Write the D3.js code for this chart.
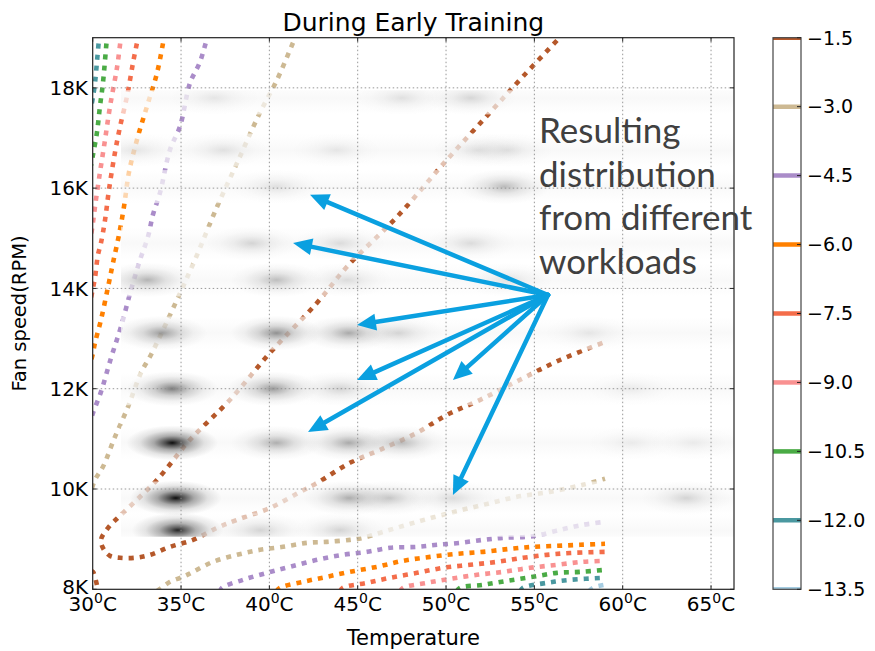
<!DOCTYPE html>
<html>
<head>
<meta charset="utf-8">
<script src="https://cdn.jsdelivr.net/npm/d3@7"></script>
<style>
  body { margin: 0; background: #fff; }
  text { font-family: "DejaVu Sans", sans-serif; fill: #000; }
</style>
</head>
<body>
<svg id="chart" width="875" height="651"></svg>
<script>
// ---- contour levels of the log-likelihood and their colours ----
const levels = [-1.5, -3.0, -4.5, -6.0, -7.5, -9.0, -10.5, -12.0, -13.5];
const levelColors = ["#b5582a", "#cdb993", "#aa8cc9", "#ff8000", "#f46d4a",
                     "#f99191", "#4aab45", "#4a98a0", "#a6cde2"];

// contour traces as [temperature °C, fan speed RPM]
const brownMain = [[56.7,19100],[54.36,18228],[52.49,17508],[50.06,16570],[47.23,15430],[44.39,14432],
  [42.70,13714],[40.04,12717],[37.77,11779],[35.51,10982],[33.64,10183],[31.72,9524],[30.87,9225],
  [30.47,8986],[30.64,8787],[30.98,8667],[31.55,8628],[32.39,8628],[33.24,8687],[34.38,8847],
  [35.68,8986],[37.04,9225],[38.17,9385],[40.04,9624],[41.73,9940],[42.70,10120],[44.56,10522],
  [46.26,10782],[48.36,11121],[50.06,11480],[51.93,11779],[54.19,12178],[56.45,12573],[59.0,12932]];
const brownCorner = [[29.9,8370],[30.02,8345],[30.3,8000],[30.35,7950]];
const tanUpper = [[41.57,19100],[40.43,18157],[39.47,17508],[38.17,16501],[37.04,15629],[35.79,14572],
  [34.72,13734],[33.30,12677],[32.73,12318],[32.00,11640],[31.26,11041],[30.58,10443],[30.13,10183],[29.9,9950]];
const tanLower = [[33.65,7970],[33.81,8010],[34.38,8149],[35.11,8249],[35.68,8348],[36.81,8548],[38.17,8687],
  [39.47,8787],[40.77,8847],[42.13,8926],[43.25,8946],[44.56,8986],[45.29,9026],[46.44,9146],[48.36,9345],
  [50.23,9524],[52.10,9684],[54.02,9844],[55.88,9943],[57.75,10083],[59.0,10203]];
const purpleUpper = [[36.55,19100],[36.07,18515],[35.51,18097],[34.94,17229],[34.38,16770],[33.81,15908],
  [33.41,15470],[33.13,15031],[32.68,14572],[32.17,13973],[31.60,13235],[31.04,12617],[30.47,11939],
  [30.02,11520],[29.9,11380]];
const purpleLower = [[37.2,7950],[37.32,8030],[38.51,8189],[39.87,8328],[41.17,8448],[42.70,8588],[44.16,8687],
  [45.53,8747],[46.83,8827],[48.36,8847],[49.49,8887],[50.79,8926],[52.10,8986],[53.23,9026],[54.58,9046],
  [55.32,9086],[56.45,9185],[57.75,9285],[59.0,9345]];
const orangeUpper = [[34.1,19100],[34.04,19000],[33.64,18296],[33.07,17628],[32.51,16969],[32.05,16310],
  [31.77,15629],[31.49,15071],[31.15,14512],[30.87,14033],[30.47,13375],[30.13,12916],[30.02,12717],[29.9,12550]];
const orangeLower = [[40.4,7960],[40.60,8030],[41.90,8149],[43.25,8249],[44.56,8348],[46.09,8448],[47.57,8568],
  [49.10,8647],[50.62,8707],[52.10,8747],[53.62,8807],[54.92,8847],[56.28,8867],[57.58,8887],[59.0,8907]];
const redUpper = [[32.6,19100],[32.56,19000],[32.28,18495],[31.94,17827],[31.55,17229],[31.26,16710],
  [30.92,15963],[30.70,15370],[30.47,14911],[30.30,14672],[30.13,14213],[30.02,14013],[29.9,13800]];
const redLower = [[44.0,7960],[44.16,8030],[45.53,8129],[46.83,8229],[48.36,8328],[49.83,8428],[51.36,8488],
  [52.89,8548],[54.36,8628],[55.71,8687],[57.02,8724],[59.0,8747]];
const pinkUpper = [[31.65,19100],[31.60,19000],[31.38,18415],[30.98,17628],[30.70,16969],[30.41,16310],
  [30.13,15629],[30.0,15270],[29.9,15050]];
const pinkLower = [[47.4,7960],[47.57,8030],[48.92,8129],[50.23,8209],[51.76,8289],[53.23,8348],[54.75,8428],
  [56.28,8488],[57.75,8548],[59.0,8568]];
const greenUpper = [[30.85,19100],[30.81,19000],[30.58,18097],[30.41,17628],[30.24,17109],[30.02,16673],[29.9,16450]];
const greenLower = [[50.6,7960],[50.79,8030],[52.10,8090],[53.45,8169],[54.92,8249],[56.28,8328],[57.58,8348],[59.0,8388]];
const tealUpper = [[30.38,19100],[30.36,19000],[30.24,18515],[30.13,18097],[30.02,17827],[29.9,17600]];
const tealLower = [[54.2,7960],[54.36,8030],[55.71,8129],[57.02,8189],[59.0,8229]];
const lightBlueLower = [[58.1,7960],[58.32,8030],[59.0,8090]];

const contourTraces = [
  {level: -1.5, pts: brownMain}, {level: -1.5, pts: brownCorner},
  {level: -3.0, pts: tanUpper}, {level: -3.0, pts: tanLower},
  {level: -4.5, pts: purpleUpper}, {level: -4.5, pts: purpleLower},
  {level: -6.0, pts: orangeUpper}, {level: -6.0, pts: orangeLower},
  {level: -7.5, pts: redUpper}, {level: -7.5, pts: redLower},
  {level: -9.0, pts: pinkUpper}, {level: -9.0, pts: pinkLower},
  {level: -10.5, pts: greenUpper}, {level: -10.5, pts: greenLower},
  {level: -12.0, pts: tealUpper}, {level: -12.0, pts: tealLower},
  {level: -13.5, pts: lightBlueLower}
];

// ---- observed workload distribution (fan speed rows and density peaks) ----
const densityRows = [17800, 16760, 16030, 14900, 14170, 13110, 12000, 10920, 9820, 9180];
const densityExtent = {tMin: 31.6, fMin: 9050, fMax: 17950};
const densityBlobs = [
  [36.9,17800,0.08],[47.5,17800,0.10],[51.4,17800,0.14],
  [32.45,16760,0.08],[37.4,16760,0.10],[43.8,16760,0.08],[51.8,16760,0.10],[53.5,16760,0.10],
  [40.4,16030,0.10],[53.3,16030,0.25],
  [39.0,14900,0.15],[44.0,14900,0.12],[51.4,14900,0.12],
  [33.1,14170,0.28],[40.4,14170,0.24],[44.4,14170,0.12],[53.5,14170,0.10],
  [33.9,13110,0.38],[40.4,13110,0.42],[44.5,13110,0.32],[47.3,13110,0.15],[58.1,13110,0.08],
  [34.5,12000,0.5],[40.2,12000,0.38],[44.0,12000,0.15],[60.5,12000,0.06],
  [34.5,10920,0.95],[40.4,10920,0.30],[44.5,10920,0.32],[47.5,10920,0.25],[60.5,10920,0.06],[64.0,10920,0.06],
  [34.7,9820,0.95],[44.5,9820,0.30],[46.8,9820,0.20],[50.4,9820,0.12],[63.6,9820,0.15],
  [34.8,9180,0.85],[39.5,9180,0.15],[44.0,9180,0.15]
];

// ---- annotation arrows: common origin and tips [°C, RPM] ----
const arrowOrigin = [55.77, 13869];
const arrowTips = [[42.30,15868],[41.34,14906],[44.96,13271],[44.96,12174],[50.39,12174],[42.19,11137],[50.39,9881]];
const noteLines = ["Resulting", "distribution", "from different", "workloads"];

// ---- axes ticks ----
const tempTicks = [30, 35, 40, 45, 50, 55, 60, 65];
const fanTicks = [8000, 10000, 12000, 14000, 16000, 18000];
const fanTickLabels = ["8K", "10K", "12K", "14K", "16K", "18K"];

// ================= drawing =================
const svg = d3.select("#chart");
const P = {left: 92.7, top: 37.7, right: 734, bottom: 589.3};
const x = d3.scaleLinear().domain([30, 66.3]).range([P.left, P.right]);
const y = d3.scaleLinear().domain([8000, 19000]).range([P.bottom, P.top]);

const defs = svg.append("defs");
defs.append("clipPath").attr("id", "plotClip").append("rect")
  .attr("x", P.left).attr("y", P.top).attr("width", P.right - P.left).attr("height", P.bottom - P.top);
defs.append("clipPath").attr("id", "densityClip").append("rect")
  .attr("x", x(densityExtent.tMin)).attr("y", y(densityExtent.fMax))
  .attr("width", P.right - x(densityExtent.tMin))
  .attr("height", y(densityExtent.fMin) - y(densityExtent.fMax));

const blobGrad = defs.append("radialGradient").attr("id", "blobGrad");
[[0, 1], [0.15, 0.72], [0.4, 0.34], [0.7, 0.1], [1, 0]].forEach(([o, a]) =>
  blobGrad.append("stop").attr("offset", o).attr("stop-color", "#000").attr("stop-opacity", a));
const bandGrad = defs.append("linearGradient").attr("id", "bandGrad")
  .attr("x1", 0).attr("y1", 0).attr("x2", 0).attr("y2", 1);
[[0, "#ffffff", 0.6], [0.5, "#f7f7f7", 0.8], [1, "#ffffff", 0.6]].forEach(([o, c, a]) =>
  bandGrad.append("stop").attr("offset", o).attr("stop-color", c).attr("stop-opacity", a));

const colorOf = d3.scaleOrdinal().domain(levels).range(levelColors);
const plotG = svg.append("g").attr("clip-path", "url(#plotClip)");

// contour lines (dotted)
const line = d3.line().x(d => x(d[0])).y(d => y(d[1])).curve(d3.curveCatmullRom.alpha(0.5));
plotG.append("g").selectAll("path").data(contourTraces).join("path")
  .attr("d", d => line(d.pts))
  .attr("fill", "none")
  .attr("stroke", d => colorOf(d.level))
  .attr("stroke-width", 4.6)
  .attr("stroke-dasharray", "5 6");

// workload density bands and peaks
const bandHalf = 330;
const densityG = plotG.append("g").attr("clip-path", "url(#densityClip)");
densityG.selectAll("rect.band").data(densityRows).join("rect").attr("class", "band")
  .attr("x", x(densityExtent.tMin)).attr("width", P.right - x(densityExtent.tMin))
  .attr("y", d => y(d + bandHalf)).attr("height", d => y(d - bandHalf) - y(d + bandHalf))
  .attr("fill", "url(#bandGrad)");
densityG.selectAll("ellipse").data(densityBlobs).join("ellipse")
  .attr("cx", d => x(d[0])).attr("cy", d => y(d[1]))
  .attr("rx", d => x(d[0] + 2.6) - x(d[0]))
  .attr("ry", d => y(d[1] - 350) - y(d[1]))
  .attr("fill", "url(#blobGrad)")
  .attr("opacity", d => d[2]);

// grid
const gridG = svg.append("g").attr("stroke", "#8c8c8c").attr("stroke-width", 0.9)
  .attr("stroke-dasharray", "1.5 2.5");
gridG.selectAll("line.v").data(tempTicks.slice(1)).join("line").attr("class", "v")
  .attr("x1", d => x(d)).attr("x2", d => x(d)).attr("y1", P.top).attr("y2", P.bottom);
gridG.selectAll("line.h").data(fanTicks.slice(1)).join("line").attr("class", "h")
  .attr("y1", d => y(d)).attr("y2", d => y(d)).attr("x1", P.left).attr("x2", P.right);

// frame and inward ticks
svg.append("rect").attr("x", P.left).attr("y", P.top)
  .attr("width", P.right - P.left).attr("height", P.bottom - P.top)
  .attr("fill", "none").attr("stroke", "#222").attr("stroke-width", 1.2);
const tickG = svg.append("g").attr("stroke", "#222").attr("stroke-width", 1);
tempTicks.forEach(t => {
  tickG.append("line").attr("x1", x(t)).attr("x2", x(t)).attr("y1", P.bottom).attr("y2", P.bottom - 4);
  tickG.append("line").attr("x1", x(t)).attr("x2", x(t)).attr("y1", P.top).attr("y2", P.top + 4);
});
fanTicks.forEach(f => {
  tickG.append("line").attr("y1", y(f)).attr("y2", y(f)).attr("x1", P.left).attr("x2", P.left + 4);
  tickG.append("line").attr("y1", y(f)).attr("y2", y(f)).attr("x1", P.right).attr("x2", P.right - 4);
});

// tick labels
const xl = svg.append("g").selectAll("text").data(tempTicks).join("text")
  .attr("x", d => x(d)).attr("y", 611).attr("text-anchor", "middle").attr("font-size", 20);
xl.append("tspan").text(d => d);
xl.append("tspan").attr("font-size", 14).attr("dy", -8).text("0");
xl.append("tspan").attr("dy", 8).text("C");

svg.append("g").selectAll("text").data(fanTicks).join("text")
  .attr("x", 88).attr("y", d => y(d) - (d === 8000 ? 3 : 0)).attr("dy", "0.36em")
  .attr("text-anchor", "end").attr("font-size", 20)
  .text((d, i) => fanTickLabels[i]);

// titles
svg.append("text").attr("x", (P.left + P.right) / 2).attr("y", 31)
  .attr("text-anchor", "middle").attr("font-size", 25).text("During Early Training");
svg.append("text").attr("x", (P.left + P.right) / 2).attr("y", 645)
  .attr("text-anchor", "middle").attr("font-size", 21).text("Temperature");
svg.append("text").attr("transform", `translate(26,${(P.top + P.bottom) / 2}) rotate(-90)`)
  .attr("text-anchor", "middle").attr("font-size", 19.5).text("Fan speed(RPM)");

// annotation arrows
const arrowColor = "#0aa0e0";
const ox = x(arrowOrigin[0]), oy = y(arrowOrigin[1]);
const arrowG = svg.append("g");
arrowTips.forEach(t => {
  const tx = x(t[0]), ty = y(t[1]);
  const dx = tx - ox, dy = ty - oy, len = Math.hypot(dx, dy);
  const ux = dx / len, uy = dy / len, headLen = 19, headHalf = 8.5;
  const bx = tx - ux * headLen, by = ty - uy * headLen;
  arrowG.append("line").attr("x1", ox).attr("y1", oy).attr("x2", bx + ux * 2).attr("y2", by + uy * 2)
    .attr("stroke", arrowColor).attr("stroke-width", 4.5).attr("stroke-linecap", "round");
  arrowG.append("path")
    .attr("d", `M${tx},${ty}L${bx - uy * headHalf},${by + ux * headHalf}L${bx + uy * headHalf},${by - ux * headHalf}Z`)
    .attr("fill", arrowColor);
});

svg.append("g").selectAll("text").data(noteLines).join("text")
  .attr("x", 539).attr("y", (d, i) => 143 + i * 43.5)
  .attr("font-size", 35).style("font-family", "Lato, 'Open Sans', sans-serif")
  .style("fill", "#404040").text(d => d);

// ---- colorbar ----
const cb = {x: 773, w: 28, top: P.top, bottom: P.bottom};
const cbScale = d3.scaleLinear().domain([-13.5, -1.5]).range([cb.bottom, cb.top]);
defs.append("clipPath").attr("id", "cbClip").append("rect")
  .attr("x", cb.x).attr("y", cb.top).attr("width", cb.w).attr("height", cb.bottom - cb.top);
const cbG = svg.append("g");
cbG.append("rect").attr("x", cb.x).attr("y", cb.top).attr("width", cb.w).attr("height", cb.bottom - cb.top)
  .attr("fill", "#fff");
cbG.append("g").attr("clip-path", "url(#cbClip)").selectAll("line").data(levels).join("line")
  .attr("x1", cb.x).attr("x2", cb.x + cb.w).attr("y1", d => cbScale(d)).attr("y2", d => cbScale(d))
  .attr("stroke", d => colorOf(d)).attr("stroke-width", 4.5);
cbG.append("rect").attr("x", cb.x).attr("y", cb.top).attr("width", cb.w).attr("height", cb.bottom - cb.top)
  .attr("fill", "none").attr("stroke", "#444").attr("stroke-width", 1.2);
cbG.selectAll("line.tk").data(levels).join("line").attr("class", "tk")
  .attr("x1", cb.x + cb.w - 4).attr("x2", cb.x + cb.w).attr("y1", d => cbScale(d)).attr("y2", d => cbScale(d))
  .attr("stroke", "#222").attr("stroke-width", 1);
cbG.selectAll("text").data(levels).join("text")
  .attr("x", cb.x + cb.w + 6).attr("y", d => cbScale(d)).attr("dy", "0.36em")
  .attr("font-size", 19).text(d => d3.format(".1f")(d));
</script>
</body>
</html>
